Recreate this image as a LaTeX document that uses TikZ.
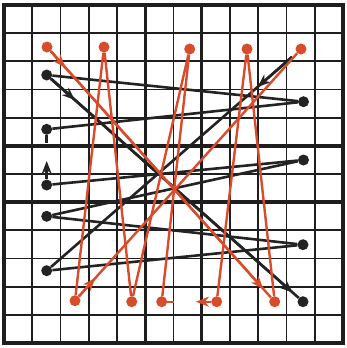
\documentclass[tikz,border=0pt]{standalone}
\usetikzlibrary{arrows.meta,calc}
\definecolor{penred}{RGB}{216,76,44}
\definecolor{penblack}{RGB}{35,35,35}
\definecolor{gridink}{RGB}{30,30,30}
\tikzset{
  thingrid/.style={line width=1.8pt, draw=gridink},
  thickgrid/.style={line width=3.4pt, draw=gridink},
  redline/.style={draw=penred, line width=2.4pt},
  blackline/.style={draw=penblack, line width=2.6pt},
  redarrow/.style={redline, -{Stealth[length=13pt,width=10pt]}},
  blackarrow/.style={blackline, -{Stealth[length=13pt,width=10pt]}},
  reddot/.style={circle, fill=penred, inner sep=0pt, minimum size=11pt},
  blackdot/.style={circle, fill=penblack, inner sep=0pt, minimum size=11pt},
}
\begin{document}
\begin{tikzpicture}[x=1pt,y=-1pt]
\useasboundingbox (0,0) rectangle (346,348);
\fill[white] (0,0) rectangle (346,348);
% graph paper
\foreach \i in {1,2,3,4,6,8,9,10,11} {
  \pgfmathsetmacro\gx{4+28.25*\i}
  \pgfmathsetmacro\gy{5+28.17*\i}
  \draw[thingrid] (\gx,5) -- (\gx,343);
  \draw[thingrid] (4,\gy) -- (343,\gy);
}
\foreach \i in {5,7} {
  \pgfmathsetmacro\gx{4+28.25*\i}
  \pgfmathsetmacro\gy{5+28.17*\i}
  \draw[thickgrid] (\gx,5) -- (\gx,343);
  \draw[thickgrid] (4,\gy) -- (343,\gy);
}
\draw[thickgrid] (4,5) rectangle (343,343);

% black dots
\node[blackdot] (L1) at (46.7,75) {};
\node[blackdot] (L2) at (46.7,129.3) {};
\node[blackdot] (L3) at (46.7,185) {};
\node[blackdot] (L4) at (46.7,216.3) {};
\node[blackdot] (L5) at (46.7,270.7) {};
\node[blackdot] (R1) at (303.5,101.7) {};
\node[blackdot] (R2) at (303.5,160) {};
\node[blackdot] (R3) at (303,244.7) {};
\node[blackdot] (R4) at (303,301.7) {};
\coordinate (S) at (292,57);
\coordinate (L2stub) at (46.7,143);
\coordinate (L3tip) at (46.7,161);

% red dots
\node[reddot] (T1) at (47,47) {};
\node[reddot] (T2) at (104,47) {};
\node[reddot] (T3) at (189.7,49) {};
\node[reddot] (T4) at (247,49) {};
\node[reddot] (T5) at (301,49) {};
\node[reddot] (B1) at (75,300.7) {};
\node[reddot] (B2) at (131.7,301.7) {};
\node[reddot] (B3) at (161.7,301.7) {};
\node[reddot] (B4) at (216.7,301.7) {};
\node[reddot] (B5) at (274.7,301.7) {};
\coordinate (B3stub) at (173.5,301.7);
\coordinate (B4tip) at (196,301.7);

% black path
\draw[blackline] (S) -- (L5);
\draw[blackarrow] (S) -- ($(S)!0.14!(L5)$);
\draw[blackline] (L5) -- (R3);
\draw[blackline] (R3) -- (L4);
\draw[blackline] (L4) -- (R2);
\draw[blackline] (R2) -- (L3);
\draw[blackarrow] (L3) -- (L3tip);
\draw[blackline] (L2) -- (L2stub);
\draw[blackline] (L2) -- (R1);
\draw[blackline] (R1) -- (L1);
\draw[blackline] (L1) -- (R4);
\draw[blackarrow] (L1) -- ($(L1)!0.11!(R4)$);
\draw[blackarrow] (L1) -- ($(L1)!0.96!(R4)$);

% red path
\draw[redline] (T1) -- (B5);
\draw[redarrow] (T1) -- ($(T1)!0.08!(B5)$);
\draw[redarrow] (T1) -- ($(T1)!0.95!(B5)$);
\draw[redline] (B5) -- (T4);
\draw[redline] (T4) -- (B4);
\draw[redarrow] (B4) -- (B4tip);
\draw[redline] (B3) -- (B3stub);
\draw[redline] (B3) -- (T3);
\draw[redline] (T3) -- (B2);
\draw[redline] (B2) -- (T2);
\draw[redline] (T2) -- (B1);
\draw[redline] (B1) -- (T5);
\draw[redarrow] (B1) -- ($(B1)!0.09!(T5)$);
\end{tikzpicture}
\end{document}
